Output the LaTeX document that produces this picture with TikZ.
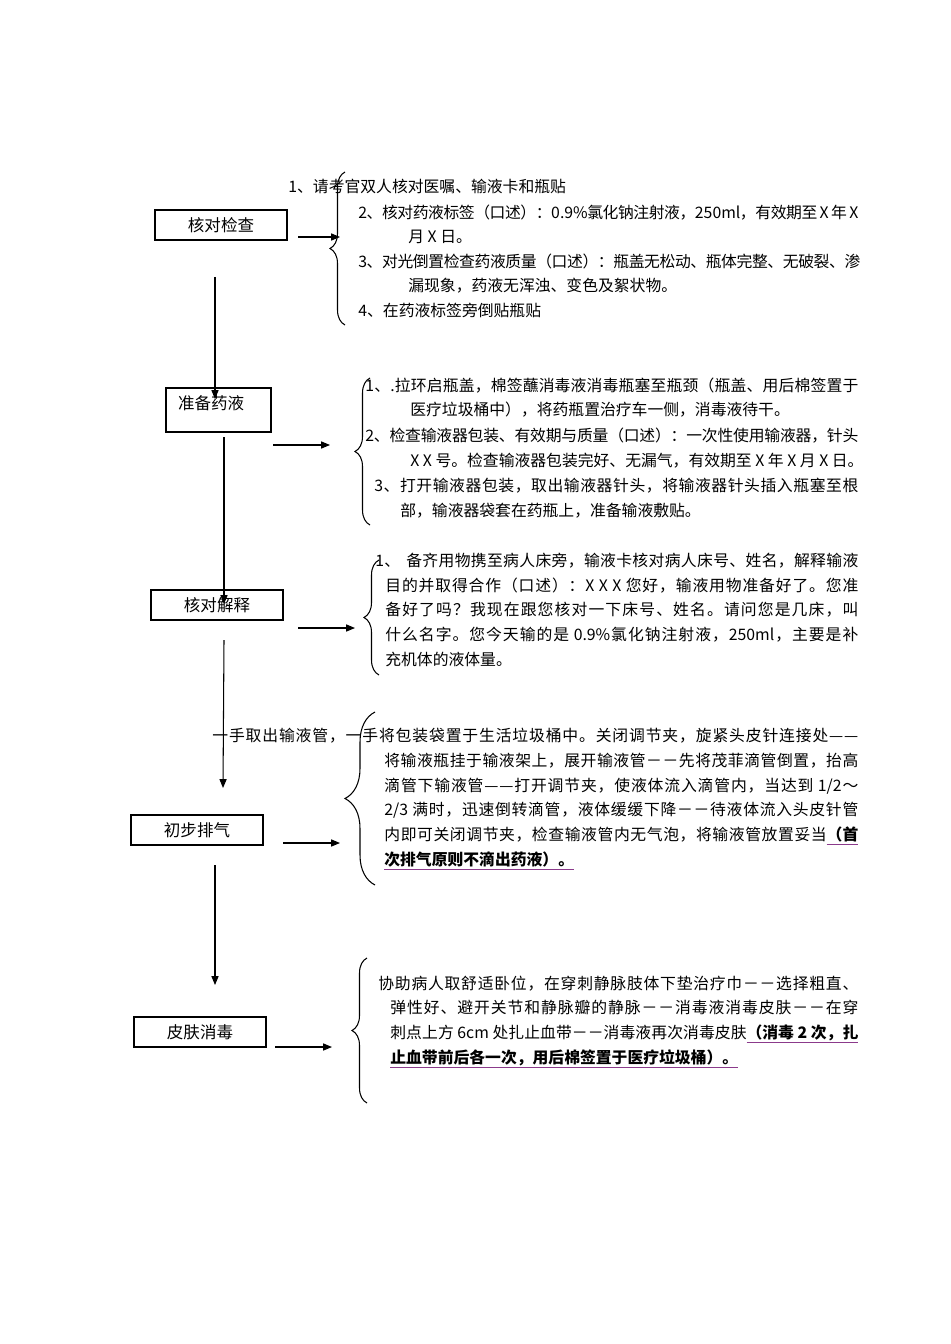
\documentclass[tikz,border=0pt]{standalone}
\usepackage{fontspec}
\setmainfont{Noto Sans CJK SC}
\usetikzlibrary{arrows.meta,decorations.pathreplacing}
% stretchable glue between CJK characters, so full lines can be justified
\newXeTeXintercharclass\hanCls
\newcount\hanc
\newcommand\hanrange[2]{\hanc=#1\relax
  \loop\XeTeXcharclass\hanc=\hanCls\relax\ifnum\hanc<#2\relax\advance\hanc by 1\relax\repeat}
\hanrange{"4E00}{"9FFF}
\hanrange{"3000}{"303F}
\hanrange{"FF00}{"FFEF}
\hanrange{"2014}{"2014}
\newcommand\cjkglue{\hskip0pt plus 1pt minus 0.25pt\relax}
\XeTeXinterchartokenstate=1
\XeTeXinterchartoks \hanCls \hanCls = {\cjkglue}
\XeTeXinterchartoks 0 \hanCls = {\cjkglue}
\XeTeXinterchartoks \hanCls 0 = {\cjkglue}
\definecolor{ulCol}{HTML}{8B3A8B}
\newlength\pxu
\setlength\pxu{0.02cm}
\newcommand\markul[1]{\setbox0\hbox{#1}\rlap{\textcolor{ulCol}{\rule[-0.3em]{\wd0}{0.55pt}}}\box0}
\newcommand\jline[2]{\makebox[#1\pxu][s]{#2}}
\tikzset{
  stepbox/.style={draw, line width=0.7pt, minimum width=2.64cm, minimum height=0.6cm,
        inner sep=0pt, font=\fontsize{9.4}{12}\selectfont},
  itemtxt/.style={anchor=base west, align=left, inner sep=0pt, font=\fontsize{9}{14.03}\selectfont},
  flow/.style={-{Triangle[length=5pt,width=4pt]}, line width=0.6pt},
  bracel/.style={decorate, decoration={brace, amplitude=#1}, line width=0.6pt},
  bracel/.default=0.3cm,
}

\begin{document}
\begin{tikzpicture}[x=0.02cm, y=-0.02cm]
  \useasboundingbox[fill=white] (0,0) rectangle (950,1344);
  % steps
  \node[stepbox] (chk) at (221,225) {核对检查};
  \node[stepbox, minimum width=2.1cm, minimum height=0.88cm, align=left, text width=1.62cm,
        inner xsep=0.24cm, text height=0.42cm, text depth=0.46cm] (prep) at (218.5,410) {准备药液};
  \node[stepbox] (expl) at (217,605) {核对解释};
  \node[stepbox] (purge) at (197,830) {初步排气};
  \node[stepbox] (disinf) at (200,1032) {皮肤消毒};

  % step 1 details (anchor = baseline of last line)
  \node[itemtxt] (c1) at (288,193) {1、请考官双人核对医嘱、输液卡和瓶贴};
  \node[itemtxt] (c2) at (358,243) {\jline{500}{2、核对药液标签（口述）：0.9\%氯化钠注射液，250ml，有效期至 X 年 X}\\
        \hspace*{50\pxu}月 X 日。};
  \node[itemtxt] (c3) at (358,292) {\jline{502}{3、对光倒置检查药液质量（口述）：瓶盖无松动、瓶体完整、无破裂、渗}\\
        \hspace*{50\pxu}漏现象，药液无浑浊、变色及絮状物。};
  \node[itemtxt] (c4) at (358,317) {4、在药液标签旁倒贴瓶贴};

  % step 2 details
  \node[itemtxt] (p1) at (365,416) {\jline{493}{1、.拉环启瓶盖，棉签蘸消毒液消毒瓶塞至瓶颈（瓶盖、用后棉签置于}\\
        \hspace*{45\pxu}医疗垃圾桶中），将药瓶置治疗车一侧，消毒液待干。};
  \node[itemtxt] (p2) at (365,466) {\jline{493}{2、检查输液器包装、有效期与质量（口述）：一次性使用输液器，针头}\\
        \hspace*{45\pxu}X X 号。检查输液器包装完好、无漏气，有效期至 X 年 X 月 X 日。};
  \node[itemtxt] (p3) at (374,516) {\jline{484}{3、打开输液器包装，取出输液器针头，将输液器针头插入瓶塞至根}\\
        \hspace*{26\pxu}部，输液器袋套在药瓶上，准备输液敷贴。};

  % step 3 details
  \node[itemtxt] (e1) at (375,665) {\jline{483}{1、\hspace{6\pxu}备齐用物携至病人床旁，输液卡核对病人床号、姓名，解释输液}\\
        \hspace*{10\pxu}\jline{473}{目的并取得合作（口述）：X X X 您好，输液用物准备好了。您准}\\
        \hspace*{10\pxu}\jline{473}{备好了吗？我现在跟您核对一下床号、姓名。请问您是几床，叫}\\
        \hspace*{10\pxu}\jline{473}{什么名字。您今天输的是 0.9\%氯化钠注射液，250ml，主要是补}\\
        \hspace*{10\pxu}充机体的液体量。};

  % step 4 details
  \node[itemtxt] (g1) at (212,865) {\jline{646}{一手取出输液管，一手将包装袋置于生活垃圾桶中。关闭调节夹，旋紧头皮针连接处——}\\
        \hspace*{172\pxu}\jline{474}{将输液瓶挂于输液架上，展开输液管－－先将茂菲滴管倒置，抬高}\\
        \hspace*{172\pxu}\jline{474}{滴管下输液管——打开调节夹，使液体流入滴管内，当达到 1/2～}\\
        \hspace*{172\pxu}\jline{474}{2/3 满时，迅速倒转滴管，液体缓缓下降－－待液体流入头皮针管}\\
        \hspace*{172\pxu}\jline{474}{内即可关闭调节夹，检查输液管内无气泡，将输液管放置妥当\markul{\bfseries（首}}\\
        \hspace*{172\pxu}\markul{\bfseries 次排气原则不滴出药液）。}};

  % step 5 details
  \node[itemtxt] (s1) at (378,1063) {\jline{480}{协助病人取舒适卧位，在穿刺静脉肢体下垫治疗巾－－选择粗直、}\\
        \hspace*{12\pxu}\jline{468}{弹性好、避开关节和静脉瓣的静脉－－消毒液消毒皮肤－－在穿}\\
        \hspace*{12\pxu}\jline{468}{刺点上方 6cm 处扎止血带－－消毒液再次消毒皮肤\markul{\bfseries（消毒 2 次，扎}}\\
        \hspace*{12\pxu}\markul{\bfseries 止血带前后各一次，用后棉签置于医疗垃圾桶）。}};

  % braces
  \draw[bracel] (345,325) -- (345,172);
  \draw[bracel] (370,525) -- (370,378);
  \draw[bracel] (379,675) -- (379,560);
  \draw[bracel=0.6cm] (375,885) -- (375,712);
  \draw[bracel] (367,1103) -- (367,958);

  % arrow ends
  \coordinate (a1s) at (215,277);  \coordinate (a1e) at (215,399);
  \coordinate (a2s) at (224,437);  \coordinate (a2e) at (224,604);
  \coordinate (a3s) at (224,640);  \coordinate (a3e) at (223,788);
  \coordinate (a4s) at (215,865);  \coordinate (a4e) at (215,985);
  \coordinate (h1s) at (298,237);  \coordinate (h1e) at (340,237);
  \coordinate (h2s) at (273,445);  \coordinate (h2e) at (330,445);
  \coordinate (h3s) at (298,628);  \coordinate (h3e) at (355,628);
  \coordinate (h4s) at (283,843);  \coordinate (h4e) at (340,843);
  \coordinate (h5s) at (275,1047); \coordinate (h5e) at (332,1047);
  \foreach \a in {a1,a2,a3,a4,h1,h2,h3,h4,h5}
    \draw[flow] (\a s) -- (\a e);
\end{tikzpicture}
\end{document}
